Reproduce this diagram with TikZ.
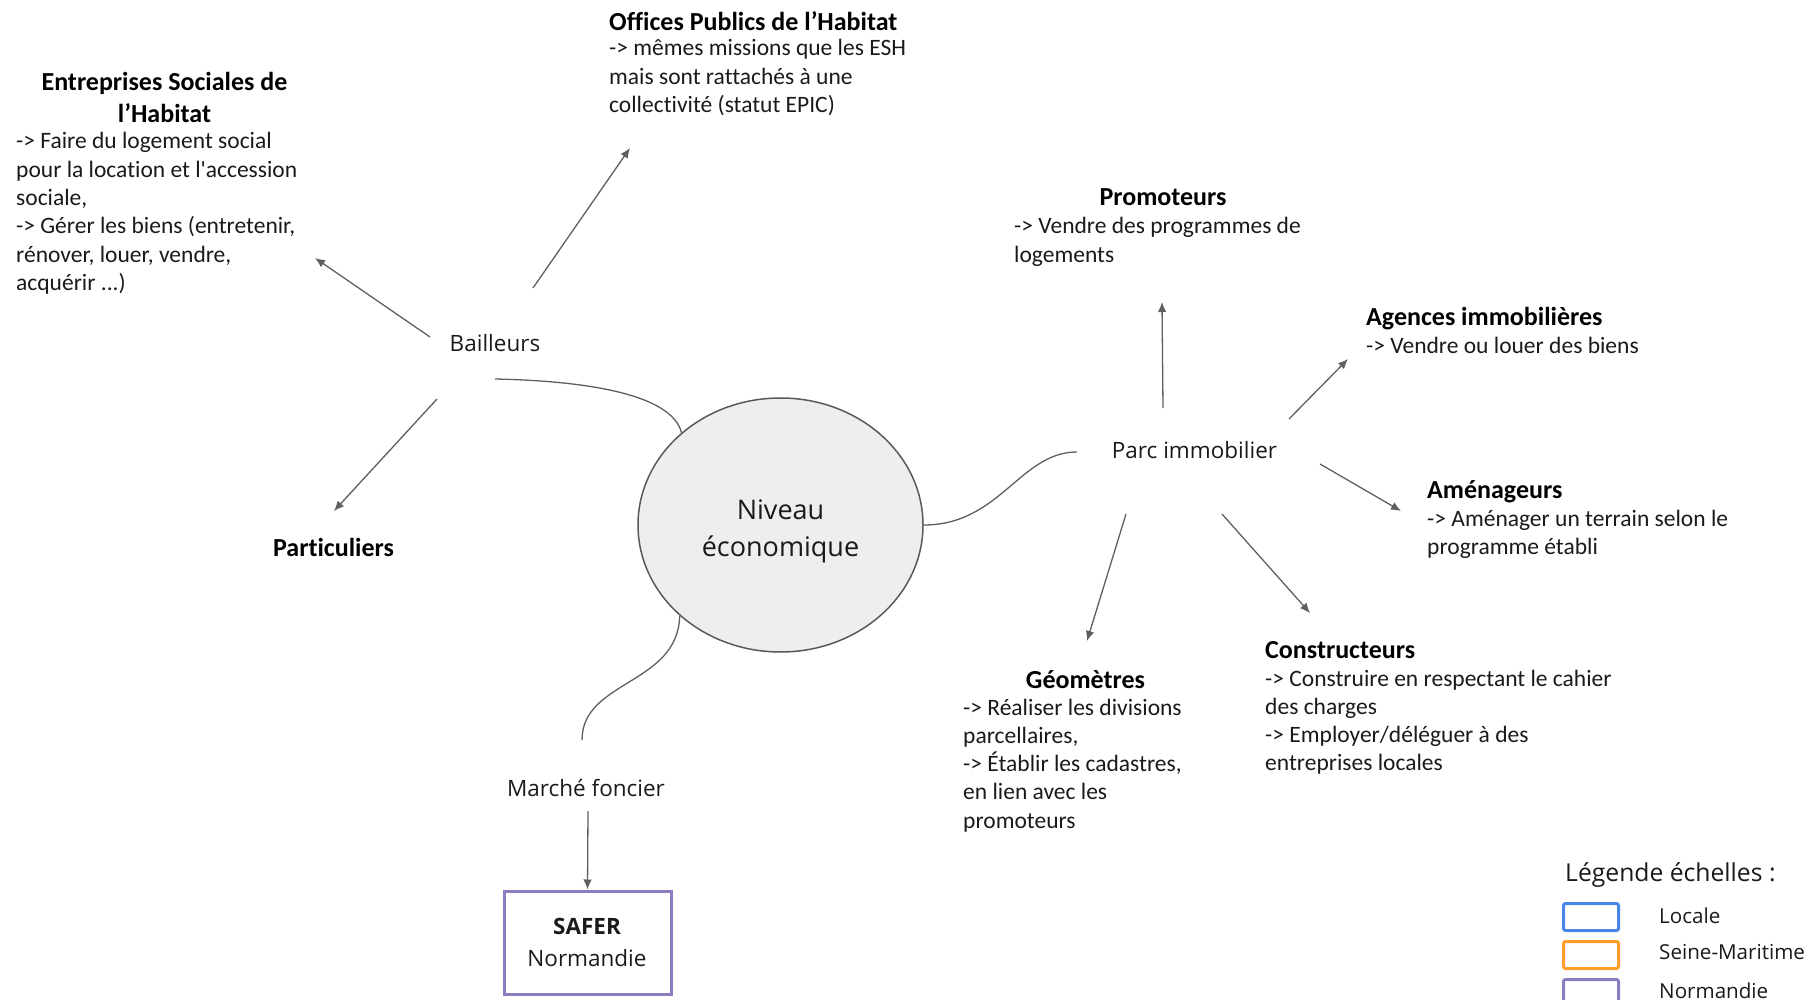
\documentclass[tikz,border=0pt]{standalone}
\usepackage{fontspec}
\setmainfont{Carlito}[Ligatures=NoCommon]
\newfontfamily\osans{Open Sans}
\usetikzlibrary{arrows.meta,shapes.geometric}

\definecolor{linegray}{HTML}{5F5F5F}
\definecolor{ovalfill}{HTML}{EEEEEE}
\definecolor{ovaldraw}{HTML}{595959}
\definecolor{txt}{HTML}{1A1A1A}
\definecolor{scaleblue}{HTML}{4A86E8}
\definecolor{scaleorange}{HTML}{FF9E2C}
\definecolor{scalepurple}{HTML}{8E7CC3}

% multi-line text whose baseline is that of its first line
\newcommand{\lstack}[1]{\begin{tabular}[t]{@{}l@{}}#1\end{tabular}}
\newcommand{\cstack}[1]{\begin{tabular}[t]{@{}c@{}}#1\end{tabular}}

\tikzset{
  head/.style={font=\fontsize{26}{31.5}\selectfont\bfseries, text=black, inner sep=0pt, anchor=base},
  headw/.style={head, anchor=base west},
  body/.style={font=\fontsize{23.5}{28.3}\selectfont, text=txt, inner sep=0pt, anchor=base west},
  hub/.style={font=\osans\fontsize{22.5}{28}\selectfont, text=txt, inner sep=0pt, anchor=base},
  arr/.style={draw=linegray, line width=1.3pt, -{Latex[length=10pt,width=8.5pt]}},
  link/.style={draw=linegray, line width=1.3pt},
  scalebox/.style={draw=#1, line width=3pt, rounded corners=2pt, minimum width=55pt,
                   minimum height=27pt, inner sep=0pt, anchor=north west},
  legendtxt/.style={font=\osans\fontsize{20.6}{24}\selectfont, text=txt, inner sep=0pt, anchor=base west},
}

\begin{document}
\begin{tikzpicture}[x=1pt,y=-1pt]
\useasboundingbox (0,0) rectangle (1807,1000);

% central topic
\node[ellipse, draw=ovaldraw, fill=ovalfill, line width=1.5pt, minimum width=285pt,
      minimum height=254pt, inner sep=0pt] (eco) at (780.5,525) {};
\node[font=\osans\fontsize{27}{37}\selectfont, text=txt, inner sep=0pt, anchor=base]
  (eco-txt) at (780.5,519.5) {\cstack{Niveau\\économique}};

% hubs
\node[hub] (bail) at (495,352) {Bailleurs};
\node[hub] (parc) at (1194.5,458) {Parc immobilier};
\node[hub] (marche) at (586,796) {Marché foncier};

% social landlords
\node[head] (esh) at (164.5,91) {\cstack{Entreprises Sociales de\\l’Habitat}};
\node[body] (esh-txt) at (16,149) {\lstack{-> Faire du logement social\\
  pour la location et l\textquotesingle accession\\
  sociale,\\
  -> Gérer les biens (entretenir,\\
  rénover, louer, vendre,\\
  acquérir ...)}};

\node[headw] (oph) at (609,31) {Offices Publics de l’Habitat};
\node[body] (oph-txt) at (609,56) {\lstack{-> mêmes missions que les ESH\\
  mais sont rattachés à une\\
  collectivité (statut EPIC)}};

\node[head] (part) at (333.5,556) {Particuliers};

% real-estate actors
\node[head] (promo) at (1163,206) {Promoteurs};
\node[body] (promo-txt) at (1014,234) {\lstack{-> Vendre des programmes de\\logements}};

\node[headw] (agences) at (1366,325) {Agences immobilières};
\node[body] (agences-txt) at (1366,353) {-> Vendre ou louer des biens};

\node[headw] (amen) at (1427,498) {Aménageurs};
\node[body] (amen-txt) at (1427,526) {\lstack{-> Aménager un terrain selon le\\programme établi}};

\node[head] (geo) at (1085.5,688) {Géomètres};
\node[body] (geo-txt) at (963,715) {\lstack{-> Réaliser les divisions\\
  parcellaires,\\
  -> Établir les cadastres,\\
  en lien avec les\\
  promoteurs}};

\node[headw] (constr) at (1265,658) {Constructeurs};
\node[body] (constr-txt) at (1265,686) {\lstack{-> Construire en respectant le cahier\\
  des charges\\
  -> Employer/déléguer à des\\
  entreprises locales}};

% land market
\node[draw=scalepurple, line width=3pt, minimum width=167pt, minimum height=103pt,
      inner sep=0pt] (safer) at (587.5,942.5) {};
\node[hub, font=\osans\bfseries\fontsize{22.5}{28}\selectfont] (safer-name) at (587,934) {SAFER};
\node[hub] (safer-reg) at (587,966) {Normandie};

% loose ends of the connectors
\coordinate (bail-in) at (495,379);
\coordinate (parc-in) at (1077,452);
\coordinate (marche-in) at (582,740);

\coordinate (bail-esh) at (430,337);   \coordinate (esh-in) at (315,258);
\coordinate (bail-oph) at (533,288);   \coordinate (oph-in) at (630,148);
\coordinate (bail-part) at (437,399);  \coordinate (part-in) at (334,511);
\coordinate (parc-promo) at (1163,408); \coordinate (promo-in) at (1162,302);
\coordinate (parc-ag) at (1289,419);   \coordinate (ag-in) at (1348,359);
\coordinate (parc-amen) at (1320,464); \coordinate (amen-in) at (1401,511);
\coordinate (parc-geo) at (1126,514);  \coordinate (geo-in) at (1087,641);
\coordinate (parc-con) at (1222,514);  \coordinate (con-in) at (1310,613);
\coordinate (marche-safer) at (588,811);

% branches of the central topic
\draw[link] (eco.137.5) .. controls (672,395) and (590,381) .. (bail-in);
\draw[link] (eco.east) .. controls (1000,525) and (1020,452) .. (parc-in);
\draw[link] (eco.222.8) .. controls (678,685) and (582,680) .. (marche-in);

% arrows
\draw[arr] (bail-esh) -- (esh-in);
\draw[arr] (bail-oph) -- (oph-in);
\draw[arr] (bail-part) -- (part-in);
\draw[arr] (parc-promo) -- (promo-in);
\draw[arr] (parc-ag) -- (ag-in);
\draw[arr] (parc-amen) -- (amen-in);
\draw[arr] (parc-geo) -- (geo-in);
\draw[arr] (parc-con) -- (con-in);
\draw[arr] (marche-safer) -- (safer.north);

% legend
\node[font=\osans\fontsize{24.7}{30}\selectfont, text=txt, inner sep=0pt, anchor=base west]
  (legend) at (1565,881.5) {Légende échelles :};
\node[scalebox=scaleblue] (lg-loc) at (1562,902) {};
\node[scalebox=scaleorange] (lg-dep) at (1562,940) {};
\node[scalebox=scalepurple] (lg-reg) at (1562,978) {};
\node[legendtxt] (lg-loc-txt) at (1659,923) {Locale};
\node[legendtxt] (lg-dep-txt) at (1659,959) {Seine-Maritime};
\node[legendtxt] (lg-reg-txt) at (1659,998) {Normandie};
\end{tikzpicture}
\end{document}
